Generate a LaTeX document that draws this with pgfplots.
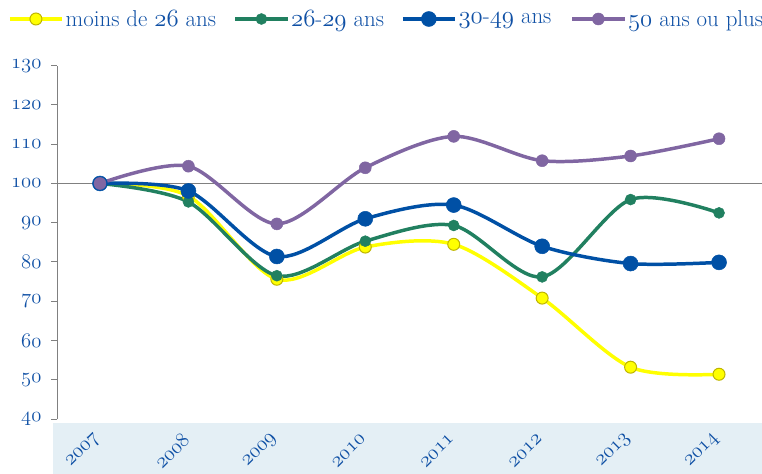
\documentclass[border=0pt]{standalone}
\usepackage{pgfplots}
\pgfplotsset{compat=1.18}
\definecolor{txtblue}{RGB}{15,80,165}
\definecolor{cyel}{RGB}{255,255,0}
\definecolor{cyeld}{RGB}{190,180,0}
\definecolor{cgreen}{RGB}{33,128,96}
\definecolor{cblue}{RGB}{0,80,165}
\definecolor{cpurple}{RGB}{128,102,162}
\definecolor{band}{RGB}{228,239,245}
\newcommand\osn[1]{{\fontencoding{OML}\fontfamily{lmm}\fontseries{m}\fontshape{it}\selectfont #1}}
\newcommand\osx[1]{{\fontsize{21}{25}\fontencoding{OML}\fontfamily{lmm}\fontseries{m}\fontshape{it}\selectfont #1}}
\newcommand\osb[1]{{\fontsize{22.5}{26}\fontencoding{OML}\fontfamily{lmm}\fontseries{b}\fontshape{it}\selectfont #1}\kern6bp}
\newcommand\legtxt[2]{\makebox[#1][l]{\fontsize{23}{27}\selectfont #2}}
\begin{document}
\begin{tikzpicture}
\useasboundingbox (-57bp,-55bp) rectangle (705bp,419bp);
\fill[band] (-4bp,-55bp) rectangle (705bp,-4bp);
\begin{axis}[
  scale only axis,
  width=705bp, height=353.3bp,
  xmin=-0.486, xmax=7.486,
  ymin=40, ymax=130,
  axis lines=left,
  axis line style={-, draw=gray, line width=1pt},
  x axis line style={draw=none},
  xtick={0,...,7},
  xticklabels={\osx{2007},\osx{2008},\osx{2009},\osx{2010},\osx{2011},\osx{2012},\osx{2013},\osx{2014}},
  xtick style={draw=none},
  ytick={40,50,...,130},
  yticklabels={\osb{40},\osb{50},\osb{60},\osb{70},\osb{80},\osb{90},\osb{100},\osb{110},\osb{120},\osb{130}},
  ytick style={draw=gray, line width=1pt},
  tick align=outside,
  major tick length=6bp,
  ticklabel style={text=txtblue},
  yticklabel style={anchor=east},
  xticklabel shift=9bp,
  xticklabel style={rotate=45, anchor=east},
  extra y ticks={100},
  extra y tick labels={},
  extra y tick style={grid=major, major grid style={gray, line width=1pt}, tick style={draw=none}},
  clip=false,
  legend columns=-1,
  legend style={at={(rel axis cs:0,1)}, anchor=west, xshift=-49bp, yshift=46.7bp,
    draw=none, fill=none, inner sep=0pt, text=txtblue},
  legend image code/.code={\draw[mark repeat=2,mark phase=2,#1] plot coordinates {(0bp,0bp) (26bp,0bp) (52bp,0bp)};},
  every axis plot/.append style={line width=3.5pt, smooth},
]
\addplot[cyel, mark=*, mark size=6bp, mark options={fill=cyel, draw=cyeld, line width=1pt}]
  coordinates {(0,100) (1,96.8) (2,75.6) (3,83.8) (4,84.5) (5,70.8) (6,53.2) (7,51.4)};
\addlegendentry{\legtxt{166bp}{moins de \osn{26} ans}}
\addplot[cgreen, mark=*, mark size=5.5bp, mark options={fill=cgreen, draw=cgreen, line width=0.5pt}]
  coordinates {(0,100) (1,95.3) (2,76.5) (3,85.3) (4,89.3) (5,76.2) (6,95.9) (7,92.5)};
\addlegendentry{\legtxt{108bp}{\osn{26}-\osn{29} ans}}
\addplot[cblue, mark=*, mark size=7.5bp, mark options={fill=cblue, draw=cblue, line width=0.5pt}]
  coordinates {(0,100) (1,98.1) (2,81.4) (3,91.0) (4,94.5) (5,84.0) (6,79.6) (7,79.9)};
\addlegendentry{\legtxt{110bp}{\osn{30}-\osn{49} ans}}
\addplot[cpurple, mark=*, mark size=6bp, mark options={fill=cpurple, draw=cpurple, line width=0.5pt}]
  coordinates {(0,100) (1,104.4) (2,89.7) (3,104.0) (4,112.0) (5,105.8) (6,107.0) (7,111.4)};
\addlegendentry{\legtxt{140bp}{\osn{50} ans ou plus}}
\end{axis}
\end{tikzpicture}
\end{document}
